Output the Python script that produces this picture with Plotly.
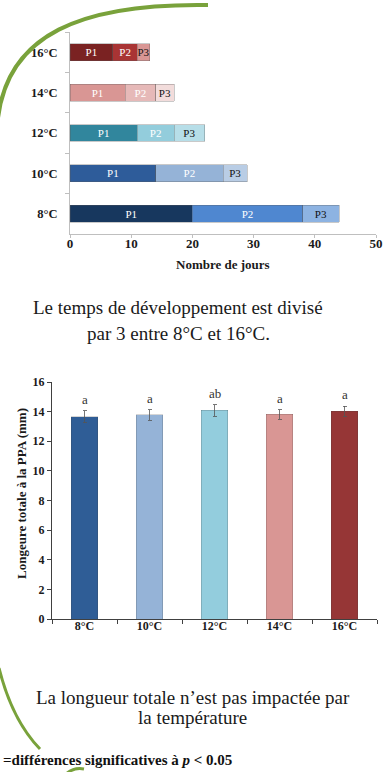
import plotly.graph_objects as go

# ---------------- data ----------------
temps = ["8°C", "10°C", "12°C", "14°C", "16°C"]
phase_names = ["P1", "P2", "P3"]
p1_days = [20, 14, 11, 9, 7]
p2_days = [18, 11, 6, 5, 4]
p3_days = [6, 4, 5, 3, 2]

p1_colors = ["#17375e", "#2e5c9a", "#31869d", "#d99694", "#7a2222"]
p2_colors = ["#4f87d0", "#95b3d7", "#93cddc", "#e6b9b8", "#a93434"]
p3_colors = ["#8db3e2", "#b9cde5", "#b7dee8", "#f2dcdb", "#d99694"]

length_mm = [13.65, 13.78, 14.08, 13.82, 14.02]
length_err = [0.40, 0.35, 0.40, 0.32, 0.35]
length_letters = ["a", "a", "ab", "a", "a"]
length_colors = ["#2f5d96", "#95b3d7", "#93cddd", "#d99694", "#963636"]

x_ticks_days = [0, 10, 20, 30, 40, 50]
y_ticks_mm = [0, 2, 4, 6, 8, 10, 12, 14, 16]

W, H = 390, 772
SERIF = "Liberation Serif, Times New Roman, serif"


def PX(px):
    return px / W


def PY(py):
    return 1 - py / H


fig = go.Figure()

# ---------------- top: stacked horizontal bars ----------------
for name, vals, cols, tcol in [
    ("P1", p1_days, p1_colors, "white"),
    ("P2", p2_days, p2_colors, "white"),
    ("P3", p3_days, p3_colors, "#111111"),
]:
    fig.add_trace(go.Bar(
        y=temps, x=vals, orientation="h", name=name,
        marker=dict(color=cols, line=dict(color="rgba(90,90,90,0.55)", width=0.6)),
        text=[name] * len(vals), textposition="inside", insidetextanchor="middle",
        constraintext="none", textangle=0,
        textfont=dict(family=SERIF, size=11, color=tcol),
        width=0.42, xaxis="x", yaxis="y", showlegend=False, hoverinfo="x+y",
    ))

# ---------------- bottom: vertical bars ----------------
fig.add_trace(go.Bar(
    x=temps, y=length_mm, marker=dict(color=length_colors,
                                      line=dict(color="rgba(60,60,60,0.35)", width=0.6)),
    error_y=dict(type="data", array=length_err, color="#555555", thickness=0.8, width=2),
    width=0.415, xaxis="x2", yaxis="y2", showlegend=False, textposition="none",
))

for t, v, e, l in zip(temps, length_mm, length_err, length_letters):
    fig.add_annotation(x=t, y=v + e, xref="x2", yref="y2", text=l, showarrow=False,
                       xanchor="center", yanchor="bottom", yshift=2,
                       font=dict(family=SERIF, size=13, color="#333333"))

fig.update_layout(
    width=W, height=H, margin=dict(l=0, r=0, t=0, b=0),
    paper_bgcolor="white", plot_bgcolor="white", barmode="stack",
    template="none",
    xaxis=dict(domain=[PX(70), PX(376)], range=[0, 50], tickvals=x_ticks_days,
               tickfont=dict(family=SERIF, size=13, color="#1a1a1a", weight="bold"),
               showline=True, linecolor="#bfbfbf", linewidth=1,
               ticks="outside", ticklen=3, tickcolor="#bfbfbf", ticklabelstandoff=-6,
               showgrid=False, zeroline=False, anchor="y", automargin=False),
    yaxis=dict(domain=[PY(234), PY(32)], type="category",
               categoryorder="array", categoryarray=temps,
               tickfont=dict(family=SERIF, size=12.5, color="#1a1a1a", weight="bold"),
               showline=True, linecolor="#bfbfbf", linewidth=1,
               ticks="outside", ticklen=4, tickcolor="#bfbfbf", tickson="boundaries",
               ticklabelstandoff=9,
               showgrid=False, zeroline=False, anchor="x", automargin=False),
    xaxis2=dict(domain=[PX(52), PX(377)], type="category",
                categoryorder="array", categoryarray=temps,
                tickfont=dict(family=SERIF, size=12, color="#1a1a1a", weight="bold"),
                showline=True, linecolor="#404040", linewidth=1,
                ticks="outside", ticklen=4, tickcolor="#404040", tickson="boundaries",
                ticklabelstandoff=-4,
                showgrid=False, zeroline=False, anchor="y2", automargin=False),
    yaxis2=dict(domain=[PY(619), PY(382)], range=[0, 16], tickvals=y_ticks_mm,
                tickfont=dict(family=SERIF, size=12, color="#1a1a1a", weight="bold"),
                showline=True, linecolor="#404040", linewidth=1,
                ticks="outside", ticklen=4, tickcolor="#404040",
                showgrid=False, zeroline=False, anchor="x2", automargin=False),
)

# axis titles
fig.add_annotation(x=PX(223), y=PY(264), xref="paper", yref="paper",
                   xanchor="center", yanchor="middle",
                   text="<b>Nombre de jours</b>", showarrow=False,
                   font=dict(family=SERIF, size=13, color="#1a1a1a"))
fig.add_annotation(x=PX(21), y=PY(494), xref="paper", yref="paper",
                   xanchor="center", yanchor="middle",
                   text="<b>Longeure totale à la PPA (mm)</b>", showarrow=False,
                   textangle=-90, font=dict(family=SERIF, size=13, color="#1a1a1a"))

# captions
cap_font = dict(family=SERIF, size=19, color="#1a1a1a")
for txt, cx, cy in [
    ("Le temps de développement est divisé", 178, 307),
    ("par 3 entre 8°C et 16°C.", 178, 333),
    ("La longueur totale n’est pas impactée par", 193, 697),
    ("la température", 192, 717),
]:
    fig.add_annotation(x=PX(cx), y=PY(cy), xref="paper", yref="paper", text=txt,
                       xanchor="center", yanchor="middle",
                       showarrow=False, font=cap_font)

fig.add_annotation(x=PX(1), y=PY(760), xref="paper", yref="paper",
                   xanchor="left", yanchor="middle",
                   text="<b>=différences significatives à <i>p</i> &lt; 0.05</b>",
                   showarrow=False, font=dict(family=SERIF, size=15, color="#111111"))

# decorative green arcs
GREEN = "#79a23b"


def path_pts(cmd):
    out = []
    for tok in cmd:
        if isinstance(tok, str):
            out.append(tok)
        else:
            out.append(f"{PX(tok[0]):.5f},{PY(tok[1]):.5f}")
    return " ".join(out)


fig.add_shape(type="path", xref="paper", yref="paper",
              path=path_pts(["M", (208, 5), "C", (80, 3), (8, 35), (-2, 118)]),
              line=dict(color=GREEN, width=4))
fig.add_shape(type="path", xref="paper", yref="paper",
              path=path_pts(["M", (-1, 668), "Q", (12, 720), (40, 749)]),
              line=dict(color=GREEN, width=3))
fig.add_shape(type="path", xref="paper", yref="paper",
              path=path_pts(["M", (66, 774), "Q", (74, 767), (84, 769)]),
              line=dict(color=GREEN, width=3))

fig.write_html("out.html", config={"displayModeBar": False},
               post_script="document.body.style.margin='0';")
